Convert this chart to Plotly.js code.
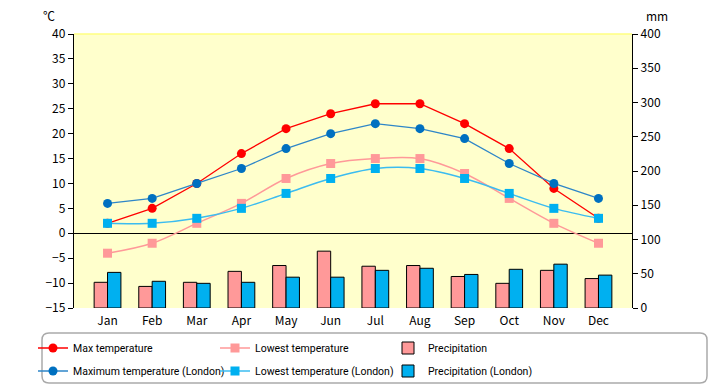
<!DOCTYPE html>
<html>
<head>
<meta charset="utf-8">
<script src="https://cdn.plot.ly/plotly-3.0.1.min.js"></script>
<style>html,body{margin:0;padding:0;background:#fff;}#chart{width:720px;height:385px;}</style>
</head>
<body>
<div id="chart"></div>
<script>
const months = ["Jan","Feb","Mar","Apr","May","Jun","Jul","Aug","Sep","Oct","Nov","Dec"];
const maxTemp = [2,5,10,16,21,24,26,26,22,17,9,3];
const lowTemp = [-4,-2,2,6,11,14,15,15,12,7,2,-2];
const precip = [37.5,31.5,37.5,53.5,62,83,61,62,46,36,55,43];
const maxTempLondon = [6,7,10,13,17,20,22,21,19,14,10,7];
const lowTempLondon = [2,2,3,5,8,11,13,13,11,8,5,3];
const precipLondon = [52,39,36,37.5,45,45,55,58,49,56.5,64,48];
const names = ["Max temperature","Lowest temperature","Precipitation",
  "Maximum temperature (London)","Lowest temperature (London)","Precipitation (London)"];

const font = "'Noto Sans CJK JP', 'DejaVu Sans', sans-serif";
const legendFont = "Roboto, 'Liberation Sans', sans-serif";

const traces = [
  {x: months, y: maxTemp, name: names[0], type: 'scatter', mode: 'lines+markers', legend: 'legend',
   line: {color: '#ff0000', width: 1.3}, marker: {color: '#ff0000', size: 9, symbol: 'circle'}},
  {x: months, y: lowTemp, name: names[1], type: 'scatter', mode: 'lines+markers', legend: 'legend2',
   line: {color: '#ff9999', width: 1.5, shape: 'spline'}, marker: {color: '#ff9999', size: 9, symbol: 'square'}},
  {x: months, y: precip, name: names[2], type: 'bar', yaxis: 'y2', legend: 'legend3',
   marker: {color: '#ff9999', line: {color: '#000', width: 1}}},
  {x: months, y: maxTempLondon, name: names[3], type: 'scatter', mode: 'lines+markers', legend: 'legend4',
   line: {color: '#2e86c8', width: 1.3}, marker: {color: '#0070c0', size: 9, symbol: 'circle'}},
  {x: months, y: lowTempLondon, name: names[4], type: 'scatter', mode: 'lines+markers', legend: 'legend5',
   line: {color: '#3bbcf0', width: 1.5, shape: 'spline'}, marker: {color: '#00b0f0', size: 9, symbol: 'square'}},
  {x: months, y: precipLondon, name: names[5], type: 'bar', yaxis: 'y2', legend: 'legend6',
   marker: {color: '#00b0f0', line: {color: '#000', width: 1}}}
];

const L = 74, R = 632, T = 34, B = 308;
const pw = R - L, ph = B - T;
const px = v => (v - L) / pw;
const py = v => (B - v) / ph;
const bx0 = px(42), bx1 = px(707), by0 = py(333), by1 = py(383);
const rx = 7 / pw, ry = 7 / ph;
const roundPath = `M ${bx0+rx} ${by0} L ${bx1-rx} ${by0} Q ${bx1} ${by0} ${bx1} ${by0-ry} L ${bx1} ${by1+ry} Q ${bx1} ${by1} ${bx1-rx} ${by1} L ${bx0+rx} ${by1} Q ${bx0} ${by1} ${bx0} ${by1+ry} L ${bx0} ${by0-ry} Q ${bx0} ${by0} ${bx0+rx} ${by0} Z`;

const legendBase = {orientation: 'v', xanchor: 'left', yanchor: 'middle',
  font: {size: 10.5, family: legendFont}, bgcolor: 'rgba(0,0,0,0)', itemwidth: 30};
const colX = [33, 215, 388];
const rowY = [348, 371];
const mkLegend = (c, r) => Object.assign({}, legendBase, {x: px(colX[c]), y: py(rowY[r])});

const layout = {
  width: 720, height: 385,
  margin: {l: L, r: 720 - R, t: T, b: 385 - B, autoexpand: false},
  paper_bgcolor: '#ffffff',
  plot_bgcolor: '#ffffcc',
  font: {family: font, size: 11, color: '#000'},
  showlegend: true,
  barmode: 'group', bargap: 0.4, bargroupgap: 0,
  xaxis: {type: 'category', showline: false, ticks: '', showgrid: false, zeroline: false,
    ticklabelstandoff: 4, tickfont: {size: 12, family: font}},
  yaxis: {range: [-15, 40], dtick: 5, showgrid: false, zeroline: true, zerolinecolor: '#000', zerolinewidth: 1.2,
    showline: true, linecolor: '#000', linewidth: 1.2, ticks: 'outside', ticklen: 5, tickcolor: '#000',
    tickfont: {size: 12, family: font}},
  yaxis2: {range: [0, 400], dtick: 50, overlaying: 'y', side: 'right', showgrid: false, zeroline: false,
    showline: true, linecolor: '#000', linewidth: 1.2, ticks: 'outside', ticklen: 5, tickcolor: '#000',
    tickfont: {size: 12, family: font}},
  legend: mkLegend(0, 0),
  legend2: mkLegend(1, 0),
  legend3: mkLegend(2, 0),
  legend4: mkLegend(0, 1),
  legend5: mkLegend(1, 1),
  legend6: mkLegend(2, 1),
  shapes: [
    {type: 'path', xref: 'paper', yref: 'paper', path: roundPath, line: {color: '#aaaaaa', width: 1.5}, fillcolor: 'rgba(0,0,0,0)', layer: 'below'},
    {type: 'line', xref: 'paper', yref: 'paper', x0: 0, x1: 1, y0: 1, y1: 1, line: {color: '#ffff80', width: 1.5}}
  ],
  annotations: [
    {text: '℃', xref: 'paper', yref: 'paper', x: px(49), y: py(16), xanchor: 'center', yanchor: 'middle', showarrow: false, font: {size: 12, family: font}},
    {text: 'mm', xref: 'paper', yref: 'paper', x: px(657), y: py(16), xanchor: 'center', yanchor: 'middle', showarrow: false, font: {size: 12, family: font}}
  ]
};

Plotly.newPlot('chart', traces, layout, {displayModeBar: false, staticPlot: true});
</script>
</body>
</html>
